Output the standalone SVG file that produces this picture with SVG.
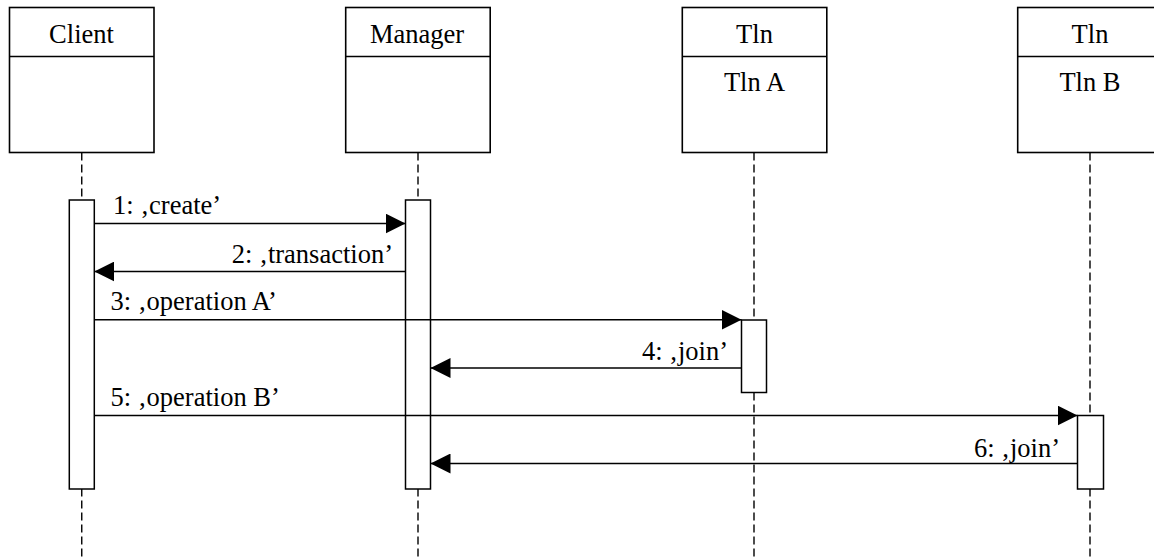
<svg xmlns="http://www.w3.org/2000/svg" width="1154" height="560" viewBox="0 0 1154 560">
<style>
.box{fill:#fff;stroke:#000;stroke-width:1.6}
.life{stroke:#000;stroke-width:1.4;stroke-dasharray:8,4;fill:none}
.act{fill:#fff;stroke:#000;stroke-width:1.5}
.msg{stroke:#000;stroke-width:1.5;fill:none;marker-end:url(#ah)}
.c{text-anchor:middle}
.e{text-anchor:end}
</style>
<defs>
<marker id="ah" markerUnits="userSpaceOnUse" markerWidth="20" markerHeight="20" refX="20" refY="10" orient="auto">
<path d="M0,0 L20,10 L0,20 Z" fill="#000"/>
</marker>
</defs>
<g font-family="'Liberation Serif', 'DejaVu Serif', serif" font-size="26.5" fill="#000">
<g id="lifelines">
<line class="life" x1="81.75" y1="152.5" x2="81.75" y2="560"/>
<line class="life" x1="418" y1="152.5" x2="418" y2="560"/>
<line class="life" x1="754" y1="152.5" x2="754" y2="560"/>
<line class="life" x1="1090" y1="152.5" x2="1090" y2="560"/>
</g>
<g id="client">
<rect class="box" x="9.5" y="7.5" width="144.5" height="145"/>
<line class="box" x1="9.5" y1="56.5" x2="154" y2="56.5"/>
<text class="c" x="81.5" y="42.5">Client</text>
<rect class="act" x="69.3" y="200" width="25" height="289"/>
</g>
<g id="manager">
<rect class="box" x="345.7" y="7.5" width="144.5" height="145"/>
<line class="box" x1="345.7" y1="56.5" x2="490.2" y2="56.5"/>
<text class="c" x="417" y="42.5">Manager</text>
<rect class="act" x="405.5" y="200" width="25" height="289"/>
</g>
<g id="tlnA">
<rect class="box" x="682.3" y="7.5" width="144.5" height="145"/>
<line class="box" x1="682.3" y1="56.5" x2="826.8" y2="56.5"/>
<text class="c" x="754.5" y="42.5">Tln</text>
<text class="c" x="754.5" y="90.5">Tln A</text>
<rect class="act" x="741.5" y="320" width="25" height="72.5"/>
</g>
<g id="tlnB">
<rect class="box" x="1017.7" y="7.5" width="144.5" height="145"/>
<line class="box" x1="1017.7" y1="56.5" x2="1162.2" y2="56.5"/>
<text class="c" x="1090" y="42.5">Tln</text>
<text class="c" x="1090" y="90.5">Tln B</text>
<rect class="act" x="1077.5" y="415.5" width="26" height="73.5"/>
</g>
<g id="connectors">
<line class="msg" x1="94.3" y1="223.5" x2="405.5" y2="223.5"/>
<text x="113" y="214">1: ‚create’</text>
<line class="msg" x1="405.5" y1="271.5" x2="94.3" y2="271.5"/>
<text class="e" x="393" y="263">2: ‚transaction’</text>
<line class="msg" x1="94.3" y1="319.8" x2="741.5" y2="319.8"/>
<text x="110.5" y="310">3: ‚operation A’</text>
<line class="msg" x1="741.5" y1="368" x2="430.5" y2="368"/>
<text class="e" x="728" y="360">4: ‚join’</text>
<line class="msg" x1="94.3" y1="415.5" x2="1077.5" y2="415.5"/>
<text x="110.5" y="406">5: ‚operation B’</text>
<line class="msg" x1="1077.5" y1="463.5" x2="430.5" y2="463.5"/>
<text class="e" x="1060" y="456.5">6: ‚join’</text>
</g>
</g>
</svg>
